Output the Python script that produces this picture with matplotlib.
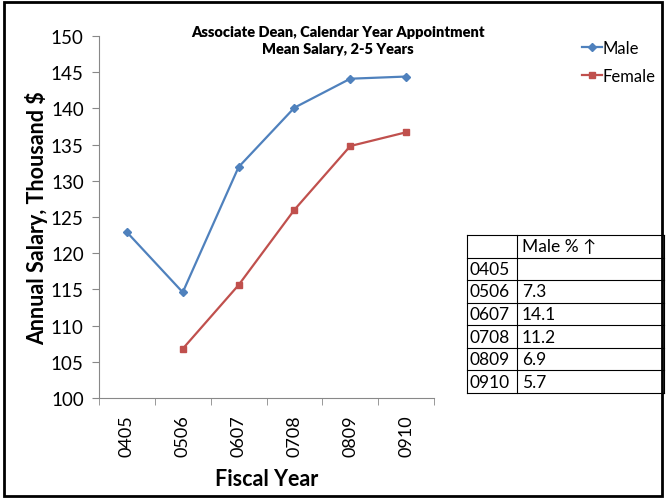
import numpy as np
import matplotlib.pyplot as plt
from matplotlib.patches import Rectangle

years = ['0405', '0506', '0607', '0708', '0809', '0910']
male = [122.9, 114.6, 131.9, 140.1, 144.1, 144.4]
female = [np.nan, 106.8, 115.6, 126.0, 134.8, 136.7]
male_pct = ['', '7.3', '14.1', '11.2', '6.9', '5.7']

plt.rcParams['font.family'] = ['Lato', 'DejaVu Sans']

fig = plt.figure(figsize=(6.67, 5.02), dpi=100)
ax = fig.add_axes([99/667, 1-399/502, (434-99)/667, (399-37)/502])

x = np.arange(len(years))
ax.plot(x, male, '-D', color='#4F81BD', lw=1.6, ms=4, label='Male')
ax.plot(x, female, '-s', color='#C0504D', lw=1.6, ms=5, label='Female')

ax.set_xlim(-0.5, len(years) - 0.5)
ax.set_ylim(100, 150)
ax.set_yticks(np.arange(100, 151, 5))
ax.set_xticks(x)
ax.set_xticklabels(years, rotation=90, fontsize=13)
ax.set_xticks(np.arange(-0.5, len(years)), minor=True)
ax.tick_params(axis='x', which='major', length=0, pad=12)
ax.tick_params(axis='x', which='minor', length=5, color='#888888')
ax.tick_params(axis='y', labelsize=13.5, length=5, color='#888888', pad=6)
for s in ['top', 'right']:
    ax.spines[s].set_visible(False)
for s in ['left', 'bottom']:
    ax.spines[s].set_color('#888888')
ax.set_xlabel('Fiscal Year', fontsize=15.5, fontweight='bold', labelpad=8)
ax.set_ylabel('Annual Salary, Thousand $', fontsize=15.5, fontweight='bold', labelpad=2)

fig.text(338/667, 1-41/502, 'Associate Dean, Calendar Year Appointment\nMean Salary, 2-5 Years',
         ha='center', va='center', fontsize=10.5, fontweight='heavy', linespacing=1.45)
fig.legend(loc='upper left', bbox_to_anchor=(575/667, 1-34/502), frameon=False,
           fontsize=12, handlelength=1.2, handletextpad=0.05, labelspacing=0.75, borderaxespad=0)

# table of male percentage
tab_x0, tab_x1, tab_split = 467/667, 664/667, 517/667
tab_top, tab_bot = 1-236/502, 1-394/502
rows = [('', 'Male % \u2191')] + list(zip(years, male_pct))
rh = (tab_top - tab_bot) / len(rows)
for i, (a, b) in enumerate(rows):
    yc = tab_top - (i + 0.5) * rh
    fig.text(tab_x0 + 3/667, yc, a, ha='left', va='center', fontsize=12.5)
    fig.text(tab_split + 5/667, yc, b, ha='left', va='center', fontsize=12.5)
for i in range(len(rows) + 1):
    yl = tab_top - i * rh
    fig.add_artist(plt.Line2D([tab_x0, tab_x1], [yl, yl], color='black', lw=0.8))
for xv in [tab_x0, tab_split, tab_x1]:
    fig.add_artist(plt.Line2D([xv, xv], [tab_bot, tab_top], color='black', lw=0.8))

fig.add_artist(Rectangle((4/667, 5/502), 658/667, 1-8/502, transform=fig.transFigure,
                         fill=False, edgecolor='black', lw=2))

fig.savefig('out.png', dpi=100)
